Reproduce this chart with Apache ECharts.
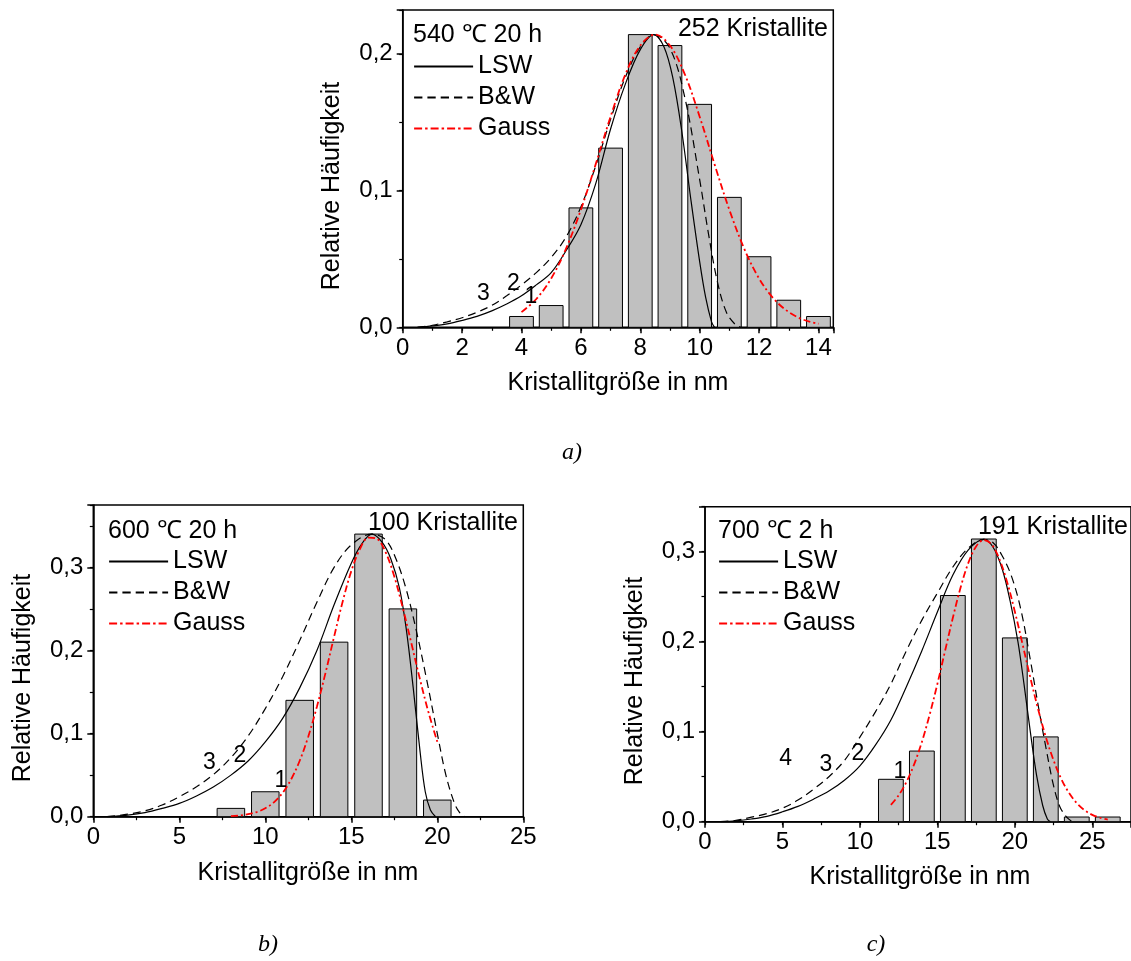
<!DOCTYPE html>
<html><head><meta charset="utf-8">
<script src="https://cdn.jsdelivr.net/npm/echarts@6/dist/echarts.min.js"></script>
<style>html,body{margin:0;padding:0;background:#fff}#c{width:1131px;height:961px}</style>
</head><body><div id="c"></div>
<script>
// ---------- DATA ----------
// Panel a) 540 °C 20 h, 252 Kristallite
const barsAX = [4, 5, 6, 7, 8, 9, 10, 11, 12, 13, 14];
const barsAY = [0.0079, 0.0159, 0.0873, 0.131, 0.214, 0.206, 0.163, 0.095, 0.0516, 0.0198, 0.0079];
const lswA = [[0.5,0],[1,0.001],[1.5,0.0025],[2,0.005],[2.5,0.008],[3,0.012],[3.5,0.017],[4,0.023],[4.5,0.031],[5,0.04],[5.5,0.056],[6,0.075],[6.5,0.105],[7,0.145],[7.5,0.178],[8,0.203],[8.45,0.214],[8.8,0.205],[9.1,0.182],[9.4,0.143],[9.7,0.094],[10,0.048],[10.2,0.022],[10.4,0.004],[10.5,0]];
const bwA = [[0.5,0],[1,0.0015],[1.5,0.004],[2,0.007],[2.5,0.011],[3,0.016],[3.5,0.023],[4,0.031],[4.5,0.04],[5,0.051],[5.5,0.066],[6,0.088],[6.5,0.118],[7,0.152],[7.5,0.183],[8,0.205],[8.45,0.214],[9,0.204],[9.5,0.168],[10,0.108],[10.3,0.068],[10.6,0.033],[10.9,0.011],[11.2,0.002],[11.4,0]];
const gaussA = [[4,0.0111],[4.5,0.0207],[5,0.0357],[5.5,0.0575],[6,0.0859],[6.5,0.1193],[7,0.154],[7.5,0.185],[8,0.206],[8.5,0.214],[9,0.206],[9.5,0.185],[10,0.154],[10.5,0.1193],[11,0.0859],[11.5,0.0575],[12,0.0357],[12.5,0.0207],[13,0.0111],[13.5,0.0055],[14,0.0026]];
const marksA = [['3',2.72,0.0249],['2',3.73,0.0322],['1',4.32,0.0224]];

// Panel b) 600 °C 20 h, 100 Kristallite
const barsBX = [8, 10, 12, 14, 16, 18, 20];
const barsBY = [0.01, 0.03, 0.14, 0.21, 0.34, 0.25, 0.02];
const lswB = [[0.8,0],[2,0.002],[3,0.005],[4,0.01],[5,0.016],[6,0.025],[7,0.036],[8,0.05],[9,0.067],[10,0.09],[11,0.118],[12,0.155],[13,0.2],[14,0.255],[15,0.305],[15.6,0.328],[16.2,0.34],[16.8,0.33],[17.3,0.31],[17.8,0.275],[18.2,0.225],[18.6,0.155],[19,0.078],[19.3,0.03],[19.6,0.008],[19.9,0]];
const bwB = [[0.8,0],[2,0.003],[3,0.007],[4,0.014],[5,0.024],[6,0.036],[7,0.051],[8,0.071],[9,0.097],[10,0.13],[11,0.168],[12,0.212],[13,0.258],[14,0.3],[15,0.327],[16.2,0.34],[17,0.333],[17.6,0.31],[18.2,0.273],[18.8,0.222],[19.4,0.163],[20,0.1],[20.5,0.05],[21,0.016],[21.3,0.005],[21.6,0]];
const gaussB = [[8,0.0007],[8.5,0.0015],[9,0.003],[9.5,0.0056],[10,0.0101],[10.5,0.0173],[11,0.0285],[11.5,0.0449],[12,0.0673],[12.5,0.0966],[13,0.1323],[13.5,0.173],[14,0.2166],[14.5,0.259],[15,0.2955],[15.5,0.322],[16,0.3358],[16.5,0.3342],[17,0.318],[17.5,0.289],[18,0.2507],[18.5,0.208],[19,0.1647],[19.5,0.1247],[20,0.0902]];
const marksB = [['3',6.75,0.0656],['2',8.52,0.0735],['1',10.91,0.0437]];

// Panel c) 700 °C 2 h, 191 Kristallite
const barsCX = [12, 14, 16, 18, 20, 22, 24, 26];
const barsCY = [0.0471, 0.0785, 0.2513, 0.3141, 0.2042, 0.0942, 0.0052, 0.0052];
const lswC = [[1,0],[2,0.001],[3,0.003],[4,0.006],[5,0.011],[6,0.017],[7,0.025],[8,0.034],[9,0.046],[10,0.062],[11,0.085],[12,0.113],[13,0.15],[14,0.19],[15,0.233],[16,0.274],[17,0.302],[18,0.3137],[18.6,0.305],[19.2,0.28],[19.7,0.245],[20.2,0.2],[20.6,0.152],[21,0.1],[21.4,0.052],[21.8,0.018],[22.1,0.003],[22.3,0]];
const bwC = [[1,0],[2,0.0015],[3,0.005],[4,0.009],[5,0.015],[6,0.024],[7,0.036],[8,0.05],[9,0.068],[10,0.094],[11,0.122],[12,0.153],[13,0.19],[14,0.224],[15,0.254],[16,0.283],[17,0.304],[18,0.3137],[18.6,0.31],[19.2,0.295],[19.8,0.272],[20.4,0.235],[21,0.18],[21.5,0.13],[22,0.083],[22.5,0.04],[22.9,0.017],[23.3,0.006],[23.7,0]];
const gaussC = [[12,0.0187],[12.5,0.0293],[13,0.044],[13.5,0.0637],[14,0.0886],[14.5,0.1188],[15,0.153],[15.5,0.19],[16,0.2266],[16.5,0.2602],[17,0.2876],[17.5,0.3058],[18,0.313],[18.5,0.3082],[19,0.292],[19.5,0.2664],[20,0.2336],[20.5,0.1972],[21,0.1602],[21.5,0.1253],[22,0.0942],[22.5,0.0683],[23,0.0475],[23.5,0.0319],[24,0.0206],[24.5,0.0128],[25,0.0076],[25.5,0.0044],[26,0.0024]];
const marksC = [['4',5.21,0.0704],['3',7.81,0.063],['2',9.87,0.076],['1',12.58,0.0556]];

const titles = ['540 \u2103 20 h', '600 \u2103 20 h', '700 \u2103 2 h'];
const counts = ['252 Kristallite', '100 Kristallite', '191 Kristallite'];
const captions = ['a)', 'b)', 'c)'];
const xName = 'Kristallitgröße in nm';
const yName = 'Relative Häufigkeit';
const legendNames = ['LSW', 'B&W', 'Gauss'];

// ---------- LAYOUT / STYLE ----------
const FONT = "'Liberation Sans', Arial, Helvetica, sans-serif";
const DASH = [8, 5];
const DASHDOT = [7, 3, 2, 3];
const panels = [
  {grid:{left:402.7, top:10, width:430.6, height:317.3}, xmax:14.5, xMaj:2, xMin:1, ymax:0.232, barW:0.8,
   bx:barsAX, by:barsAY, lsw:lswA, bw:bwA, gs:gaussA, mk:marksA,
   legend:{left:413, top:54}, title:[413,35], count:[828,29], yname:[332.5,186], xname:[618,383], cap:[572,453]},
  {grid:{left:93.3, top:505, width:430, height:311.7}, xmax:25, xMaj:5, xMin:2.5, ymax:0.375, barW:1.6,
   bx:barsBX, by:barsBY, lsw:lswB, bw:bwB, gs:gaussB, mk:marksB,
   legend:{left:108, top:549}, title:[108,531], count:[518,523], yname:[23.5,678], xname:[308,873], cap:[268,945]},
  {grid:{left:705, top:506.7, width:426, height:315}, xmax:27.5, xMaj:5, xMin:2.5, ymax:0.35, barW:1.6,
   bx:barsCX, by:barsCY, lsw:lswC, bw:bwC, gs:gaussC, mk:marksC,
   legend:{left:718, top:549}, title:[718,531], count:[1128,527], yname:[635,681], xname:[920,877], cap:[876,945]}
];

const grids = [], xAxes = [], yAxes = [], series = [], legends = [], graphics = [];
const black = '#000';
function isMult(v, s){ const r = v / s; return Math.abs(r - Math.round(r)) < 1e-6; }

panels.forEach(function(p, gi){
  grids.push(Object.assign({show:true, borderColor:black, borderWidth:1.5, backgroundColor:'transparent', containLabel:false, outerBoundsMode:'none'}, p.grid));
  xAxes.push({gridIndex:gi, type:'value', position:'bottom', min:0, max:p.xmax, interval:p.xMaj,
    axisLine:{show:true, onZero:false, lineStyle:{color:black, width:1.5}},
    axisTick:{show:true, inside:false, length:6, lineStyle:{color:black, width:1.5}},
    axisLabel:{show:true, color:black, fontSize:24, fontFamily:FONT, margin:9,
      formatter:function(v){ return isMult(v, p.xMaj) ? String(v) : ''; }},
    splitLine:{show:false}});
  xAxes.push({gridIndex:gi, type:'value', position:'bottom', offset:0, min:0, max:p.xmax, interval:p.xMin,
    axisLine:{show:false}, axisTick:{show:true, inside:false, length:3.5, lineStyle:{color:black, width:1.2}},
    axisLabel:{show:false}, splitLine:{show:false}});
  yAxes.push({gridIndex:gi, type:'value', position:'left', min:0, max:p.ymax, interval:0.1,
    axisLine:{show:true, onZero:false, lineStyle:{color:black, width:1.5}},
    axisTick:{show:true, inside:false, length:6, lineStyle:{color:black, width:1.5}},
    axisLabel:{show:true, color:black, fontSize:24, fontFamily:FONT, margin:10,
      formatter:function(v){ return isMult(v, 0.1) ? v.toFixed(1).replace('.', ',') : ''; }},
    splitLine:{show:false}});
  yAxes.push({gridIndex:gi, type:'value', position:'left', offset:0, min:0, max:p.ymax, interval:0.05,
    axisLine:{show:false}, axisTick:{show:true, inside:false, length:3.5, lineStyle:{color:black, width:1.2}},
    axisLabel:{show:false}, splitLine:{show:false}});

  const xi = gi*2, yi = gi*2;
  const barData = p.bx.map(function(x, i){ return [x, p.by[i]]; });
  const hw = p.barW/2;
  series.push({type:'custom', name:'Histogramm '+gi, xAxisIndex:xi, yAxisIndex:yi, data:barData,
    encode:{x:0, y:1}, z:1,
    renderItem:function(params, api){
      const x = api.value(0), y = api.value(1);
      const a = api.coord([x - hw, y]), b = api.coord([x + hw, 0]);
      return {type:'rect', shape:{x:a[0], y:a[1], width:b[0]-a[0], height:b[1]-a[1]},
        style:{fill:'#c0c0c0', stroke:black, lineWidth:1}};
    }});
  series.push({type:'line', name:'LSW', xAxisIndex:xi, yAxisIndex:yi, data:p.lsw, smooth:0.35,
    symbol:'none', showSymbol:false, z:3, lineStyle:{color:black, width:1.2, type:'solid'}, itemStyle:{color:black}});
  series.push({type:'line', name:'B&W', xAxisIndex:xi, yAxisIndex:yi, data:p.bw, smooth:0.35,
    symbol:'none', showSymbol:false, z:3, lineStyle:{color:black, width:1.2, type:DASH}, itemStyle:{color:black}});
  series.push({type:'line', name:'Gauss', xAxisIndex:xi, yAxisIndex:yi, data:p.gs, smooth:0.35,
    symbol:'none', showSymbol:false, z:4, lineStyle:{color:'#ff0000', width:1.8, type:DASHDOT}, itemStyle:{color:'#ff0000'}});
  series.push({type:'scatter', name:'marks '+gi, xAxisIndex:xi, yAxisIndex:yi, symbolSize:1, z:5,
    data:p.mk.map(function(m){ return {name:m[0], value:[m[1], m[2]]}; }),
    itemStyle:{color:'rgba(0,0,0,0)', opacity:1},
    label:{show:true, position:'inside', formatter:'{b}', color:'#000', opacity:1, textBorderWidth:0, fontSize:23, fontFamily:FONT}});

  legends.push({orient:'vertical', left:p.legend.left, top:p.legend.top, padding:0, itemGap:6,
    itemWidth:59, itemHeight:14, selectedMode:false,
    data:[{name:'LSW', lineStyle:{width:2, type:'solid'}},
          {name:'B&W', lineStyle:{width:2, type:[8.3, 5]}},
          {name:'Gauss', lineStyle:{width:2.2, type:[8, 3, 2.5, 3]}}],
    lineStyle:{width:2},
    itemStyle:{color:'rgba(0,0,0,0)', borderWidth:0, opacity:0},
    textStyle:{fontSize:25, color:black, fontFamily:FONT, lineHeight:25}});

  graphics.push({type:'text', x:p.title[0], y:p.title[1], z:10,
    style:{text:titles[gi], fontSize:25, fontFamily:FONT, fill:black, align:'left', verticalAlign:'middle'}});
  graphics.push({type:'text', x:p.count[0], y:p.count[1], z:10,
    style:{text:counts[gi], fontSize:25, fontFamily:FONT, fill:black, align:'right', verticalAlign:'middle'}});
  graphics.push({type:'text', x:p.yname[0], y:p.yname[1], rotation:Math.PI/2, z:10,
    style:{text:yName, fontSize:25, fontFamily:FONT, fill:black, align:'center', verticalAlign:'middle'}});
  graphics.push({type:'text', x:p.xname[0], y:p.xname[1], z:10,
    style:{text:xName, fontSize:25, fontFamily:FONT, fill:black, align:'center', verticalAlign:'middle'}});
  graphics.push({type:'text', x:p.cap[0], y:p.cap[1], z:10,
    style:{text:captions[gi], fontSize:24, fontFamily:"'Liberation Serif', 'DejaVu Serif', serif", fontStyle:'italic', fill:black, align:'center', verticalAlign:'middle'}});
});

const chart = echarts.init(document.getElementById('c'), null, {renderer:'canvas'});
chart.setOption({
  animation:false,
  backgroundColor:'#ffffff',
  textStyle:{fontFamily:FONT},
  grid:grids, xAxis:xAxes, yAxis:yAxes, legend:legends, series:series, graphic:graphics
});
</script></body></html>
